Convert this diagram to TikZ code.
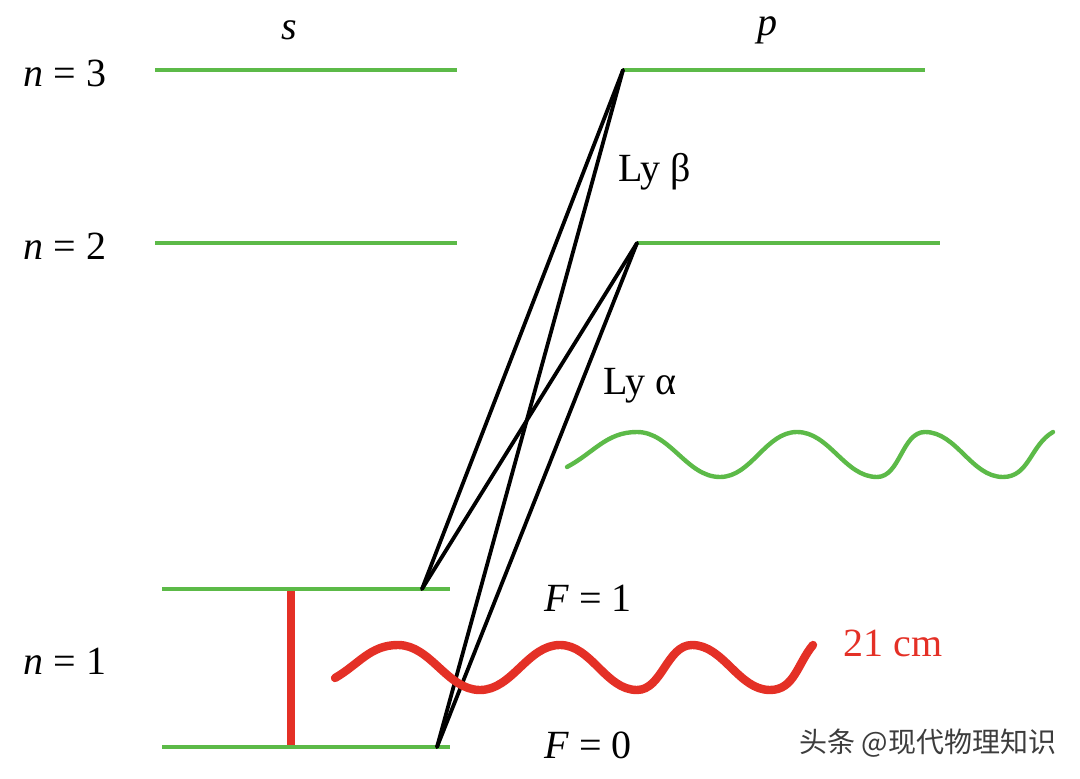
\documentclass[tikz,border=0pt]{standalone}
\usepackage{fontspec}
\usepackage{xcolor}
\usepackage{tikz}
\usetikzlibrary{positioning,calc}
\setmainfont{Liberation Serif}
\newfontfamily\cjk{Noto Sans CJK SC}
\definecolor{levelgreen}{RGB}{92,186,72}
\definecolor{linered}{RGB}{228,48,38}
\definecolor{markgray}{RGB}{60,60,60}
\tikzset{
    level/.style={
        draw=levelgreen,
        line width=2.3pt
    },
    transition/.style={
        draw=black,
        line width=1.9pt,
        line cap=round
    },
    lbl/.style={
        font=\fontsize{20}{24}\selectfont,
        inner sep=1pt
    },
    photon/.style={
        line width=2.2pt,
        line cap=round
    },
    wv/.style={out=0, in=180, looseness=0.9}
}

\begin{document}
\begin{tikzpicture}[x=0.5pt, y=-0.5pt]
\useasboundingbox (0,0) rectangle (1080,779);

% level end points
\coordinate (s3l) at (155,70);  \coordinate (s3r) at (457,70);
\coordinate (p3l) at (623,70);  \coordinate (p3r) at (925,70);
\coordinate (s2l) at (155,243); \coordinate (s2r) at (457,243);
\coordinate (p2l) at (637,243); \coordinate (p2r) at (940,243);
\coordinate (f1l) at (162,589); \coordinate (f1r) at (450,589);
\coordinate (f0l) at (162,747); \coordinate (f0r) at (450,747);
\coordinate (f1e) at (422,589);
\coordinate (f0e) at (437,747);

% levels
\draw[level] (s3l) -- (s3r);
\draw[level] (p3l) -- (p3r);
\draw[level] (s2l) -- (s2r);
\draw[level] (p2l) -- (p2r);
\draw[level] (f1l) -- (f1r);
\draw[level] (f0l) -- (f0r);

% Lyman transitions
\draw[transition] (p3l) -- (f1e);
\draw[transition] (p3l) -- (f0e);
\draw[transition] (p2l) -- (f1e);
\draw[transition] (p2l) -- (f0e);

% hyperfine splitting
\coordinate (hf1) at (291,591);
\coordinate (hf0) at (291,745);
\draw[draw=linered, line width=4pt] (hf1) -- (hf0);

% photons
\draw[photon, draw=levelgreen] (567,467) to[out=28, in=180] (637,432)
    to[wv] (720,477) to[wv] (797,432) to[wv] (877,477) to[wv] (925,432)
    to[wv] (1003,477) to[out=0, in=-150] (1053,432);
\draw[photon, draw=linered, line width=4.2pt] (335,678) to[out=30, in=180] (398,645)
    to[wv] (480,690) to[wv] (560,645) to[wv] (637,690) to[wv] (692,645)
    to[wv] (770,690) to[out=0, in=-130] (813,645);

% labels
\node[lbl] (lbl-s) at (289,30) {\textit{s}};
\node[lbl] (lbl-p) at (767,30) {\textit{p}};
\node[lbl] (lbl-n3) at (65,73) {\textit{n} = 3};
\node[lbl] (lbl-n2) at (65,246) {\textit{n} = 2};
\node[lbl] (lbl-n1) at (65,661) {\textit{n} = 1};
\node[lbl] (lbl-lyb) at (655,172) {Ly β};
\node[lbl] (lbl-lya) at (640,386) {Ly α};
\node[lbl] (lbl-f1) at (588,598) {\textit{F} = 1};
\node[lbl] (lbl-f0) at (588,745) {\textit{F} = 0};
\node[lbl, text=linered] (lbl-21) at (893,643) {21 cm};
\node[font=\cjk\fontsize{14}{16}\selectfont, text=markgray] (mark) at (928,743) {头条 @现代物理知识};
\end{tikzpicture}
\end{document}
